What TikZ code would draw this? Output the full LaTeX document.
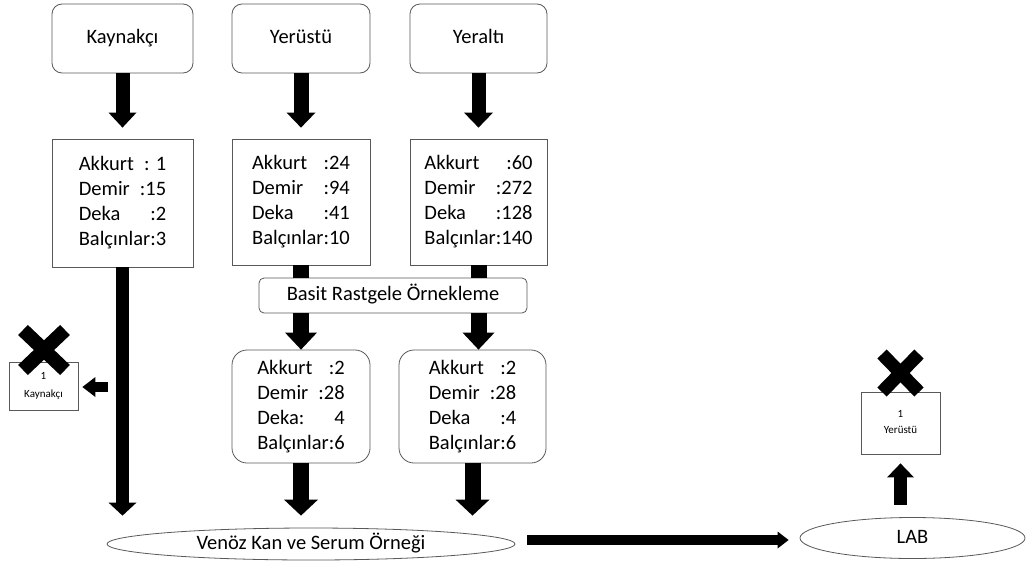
\documentclass[tikz,border=0pt]{standalone}
\usepackage{fontspec}
\setmainfont{Carlito}
\usetikzlibrary{arrows.meta,shapes.geometric}
\newlength\dw
\newcommand\dline[2]{\hbox to \dw{#1\hfill#2}}
\newcommand\dblock[2]{\vbox{\settowidth\dw{#1}\baselineskip=25pt\lineskiplimit=0pt #2}}
\tikzset{
  boxbase/.style={font=\fontsize{20.5}{25}\selectfont, draw=black!65, line width=0.8pt, fill=white, inner sep=0pt},
  oneline/.style={text height=14.5pt, text depth=4.5pt},
  rbox/.style={boxbase, rectangle, rounded corners=10pt},
  sbox/.style={boxbase, rectangle},
  ebox/.style={boxbase, ellipse, oneline},
  smallbox/.style={boxbase, rectangle, font=\fontsize{11}{13}\selectfont},
  blk/.style n args={3}{draw=black, line width=#1, -{Triangle[width=#2,length=#3,line width=0pt]}},
  shaft/.style={draw=black, line width=#1},
  xmark/.style={draw=black, line width=14pt}
}
\begin{document}
\begin{tikzpicture}[x=1pt,y=-1pt]
\useasboundingbox (0,0) rectangle (1027,565);

% top boxes
\node[rbox, oneline, minimum width=141pt, minimum height=69pt] (ktop) at (122.5,38.5) {Kaynakçı};
\node[rbox, oneline, minimum width=138pt, minimum height=69pt] (ytop) at (301,38.5) {Yerüstü};
\node[rbox, oneline, minimum width=137pt, minimum height=69pt] (atop) at (478.5,38.5) {Yeraltı};

% data boxes
\node[sbox, minimum width=141pt, minimum height=128pt] (kdata) at (122.5,203) {\dblock{Balçınlar:3}{%
  \dline{Akkurt}{: 1}\dline{Demir}{:15}\dline{Deka}{:2}\dline{Balçınlar}{:3}}};
\node[sbox, minimum width=138pt, minimum height=126pt] (ydata) at (301,202) {\dblock{Balçınlar:10}{%
  \dline{Akkurt}{:24}\dline{Demir}{:94}\dline{Deka}{:41}\dline{Balçınlar}{:10}}};
\node[sbox, minimum width=137pt, minimum height=126pt] (adata) at (478.5,202) {\dblock{Balçınlar:140}{%
  \dline{Akkurt}{:60}\dline{Demir}{:272}\dline{Deka}{:128}\dline{Balçınlar}{:140}}};

% sampling box
\node[boxbase, oneline, rectangle, rounded corners=5pt, minimum width=268pt, minimum height=35pt] (basit) at (393,295.5) {Basit Rastgele Örnekleme};

% lower boxes
\node[boxbase, rectangle, rounded corners=15pt, minimum width=138pt, minimum height=113pt] (ylow) at (301,406.5) {\dblock{Balçınlar:6}{%
  \dline{Akkurt}{:2}\dline{Demir}{:28}\dline{Deka:}{4}\dline{Balçınlar}{:6}}};
\node[boxbase, rectangle, rounded corners=15pt, minimum width=147pt, minimum height=113pt] (alow) at (472.5,406.5) {\dblock{Balçınlar:6}{%
  \dline{Akkurt}{:2}\dline{Demir}{:28}\dline{Deka}{:4}\dline{Balçınlar}{:6}}};

% ellipses
\node[ebox, minimum width=408pt, minimum height=32pt] (venoz) at (311,544) {Venöz Kan ve Serum Örneği};
\node[ebox, minimum width=225pt, minimum height=41pt] (lab) at (912.5,538) {LAB};

% small discarded boxes
\node[smallbox, minimum width=69pt, minimum height=48pt] (kx) at (43.5,386)
  {\raisebox{-5.5pt}{\begin{tabular}{@{}c@{}}1\\[5pt]Kaynakçı\end{tabular}}};
\node[smallbox, minimum width=79pt, minimum height=62pt] (yx) at (900.5,423)
  {\begin{tabular}{@{}c@{}}1\\[2.5pt]Yerüstü\end{tabular}};

% X marks
\draw[xmark] (23,330) -- (65,370);
\draw[xmark] (23,370) -- (65,330);
\draw[xmark, line width=13pt] (882,354) -- (919,392);
\draw[xmark, line width=13pt] (882,392) -- (919,354);

% top arrows
\draw[blk={14pt}{28pt}{15pt}, shorten >=11pt] (ktop.south) -- (kdata.north);
\draw[blk={15pt}{29pt}{15pt}, shorten >=11pt] (ytop.south) -- (ydata.north);
\draw[blk={14pt}{29pt}{15pt}, shorten >=11pt] (atop.south) -- (adata.north);

% long Kaynakçı arrow
\draw[blk={13pt}{28pt}{13pt}, shorten >=12pt] (kdata.south) -- (kdata.south |- venoz.north);
\coordinate (kbranch) at (108,387);
\draw[blk={10pt}{20pt}{13pt}, shorten >=4pt] (kbranch) -- (kbranch -| kx.east);

% through the sampling box
\draw[shaft=16pt] (ydata.south) -- (ydata.south |- basit.north);
\draw[shaft=16pt] (adata.south) -- (adata.south |- basit.north);
\draw[blk={16pt}{32pt}{17pt}] (ydata.south |- basit.south) -- (ylow.north);
\draw[blk={16pt}{32pt}{17pt}] (adata.south |- basit.south) -- (adata.south |- alow.north);

% lower arrows
\draw[blk={16pt}{34pt}{16pt}, shorten >=12pt] (ylow.south) -- (ylow.south |- venoz.north);
\draw[blk={16pt}{34pt}{16pt}, shorten >=12pt] (alow.south) -- (alow.south |- venoz.north);

% to LAB and up
\draw[blk={10pt}{17pt}{11pt}] ([xshift=12pt,yshift=4pt]venoz.east) -- ([xshift=-11pt,yshift=-2pt]lab.west);
\draw[blk={13pt}{27pt}{14pt}, shorten <=12pt, shorten >=9pt] (yx.south |- lab.north) -- (yx.south);
\end{tikzpicture}
\end{document}
